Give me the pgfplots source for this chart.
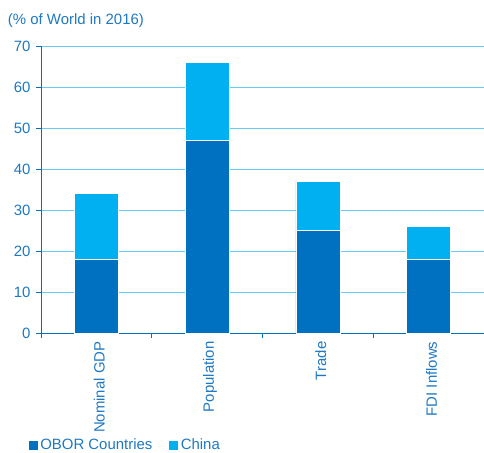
\documentclass[border=0pt]{standalone}
\usepackage{pgfplots}
\pgfplotsset{compat=1.18}
\usepackage{fontspec}
\setmainfont{Liberation Sans}
\definecolor{obor}{HTML}{0070C0}
\definecolor{china}{HTML}{00B0F0}
\definecolor{txt}{HTML}{1E78C2}
\definecolor{gridc}{HTML}{66CCF5}
\begin{document}
\begin{tikzpicture}
\useasboundingbox (0,0) rectangle (484bp,453bp);
\begin{axis}[
  at={(41bp,120bp)}, anchor=south west,
  scale only axis, width=443bp, height=287bp,
  ybar stacked, bar width=44bp,
  xmin=-0.5, xmax=3.5, ymin=0, ymax=70,
  ytick={0,10,...,70},
  xtick={0,1,2,3},
  xticklabels={Nominal GDP,Population,Trade,FDI Inflows},
  minor xtick={-0.5,0.5,1.5,2.5,3.5},
  major x tick style={draw=none},
  minor x tick style={draw=obor, line width=0.6pt},
  y tick style={draw=obor, line width=0.6pt},
  tick align=outside,
  major tick length=5bp, minor tick length=5bp,
  axis x line*=bottom, axis y line*=left,
  axis line style={draw=obor, line width=0.8pt, -},
  ymajorgrids, grid style={gridc, line width=0.8pt},
  x tick label style={rotate=90, anchor=east, font=\fontsize{15}{17}\selectfont, text=txt, yshift=-3bp},
  y tick label style={font=\fontsize{15}{17}\selectfont, text=txt, xshift=-2bp},
  /pgf/number format/assume math mode=true,
  legend style={at={(-0.03,-0.39)}, anchor=west, draw=none, fill=none,
    font=\fontsize{15}{17}\selectfont, text=txt, legend columns=2, inner sep=0pt,
    /tikz/every even column/.append style={column sep=14bp}},
  legend image code/.code={\fill[#1] (0bp,-5bp) rectangle (10bp,5bp);},
  clip=false,
]
\addplot+[fill=obor, draw=white, line width=0.4pt] coordinates {(0,18) (1,47) (2,25) (3,18)};
\addplot+[fill=china, draw=white, line width=0.4pt] coordinates {(0,16) (1,19) (2,12) (3,8)};
\legend{OBOR Countries, China}
\node[anchor=west, text=txt, font=\fontsize{15}{17}\selectfont, inner sep=0pt] at (rel axis cs:-0.075,1.09) {(\% of World in 2016)};
\end{axis}
\end{tikzpicture}
\end{document}
